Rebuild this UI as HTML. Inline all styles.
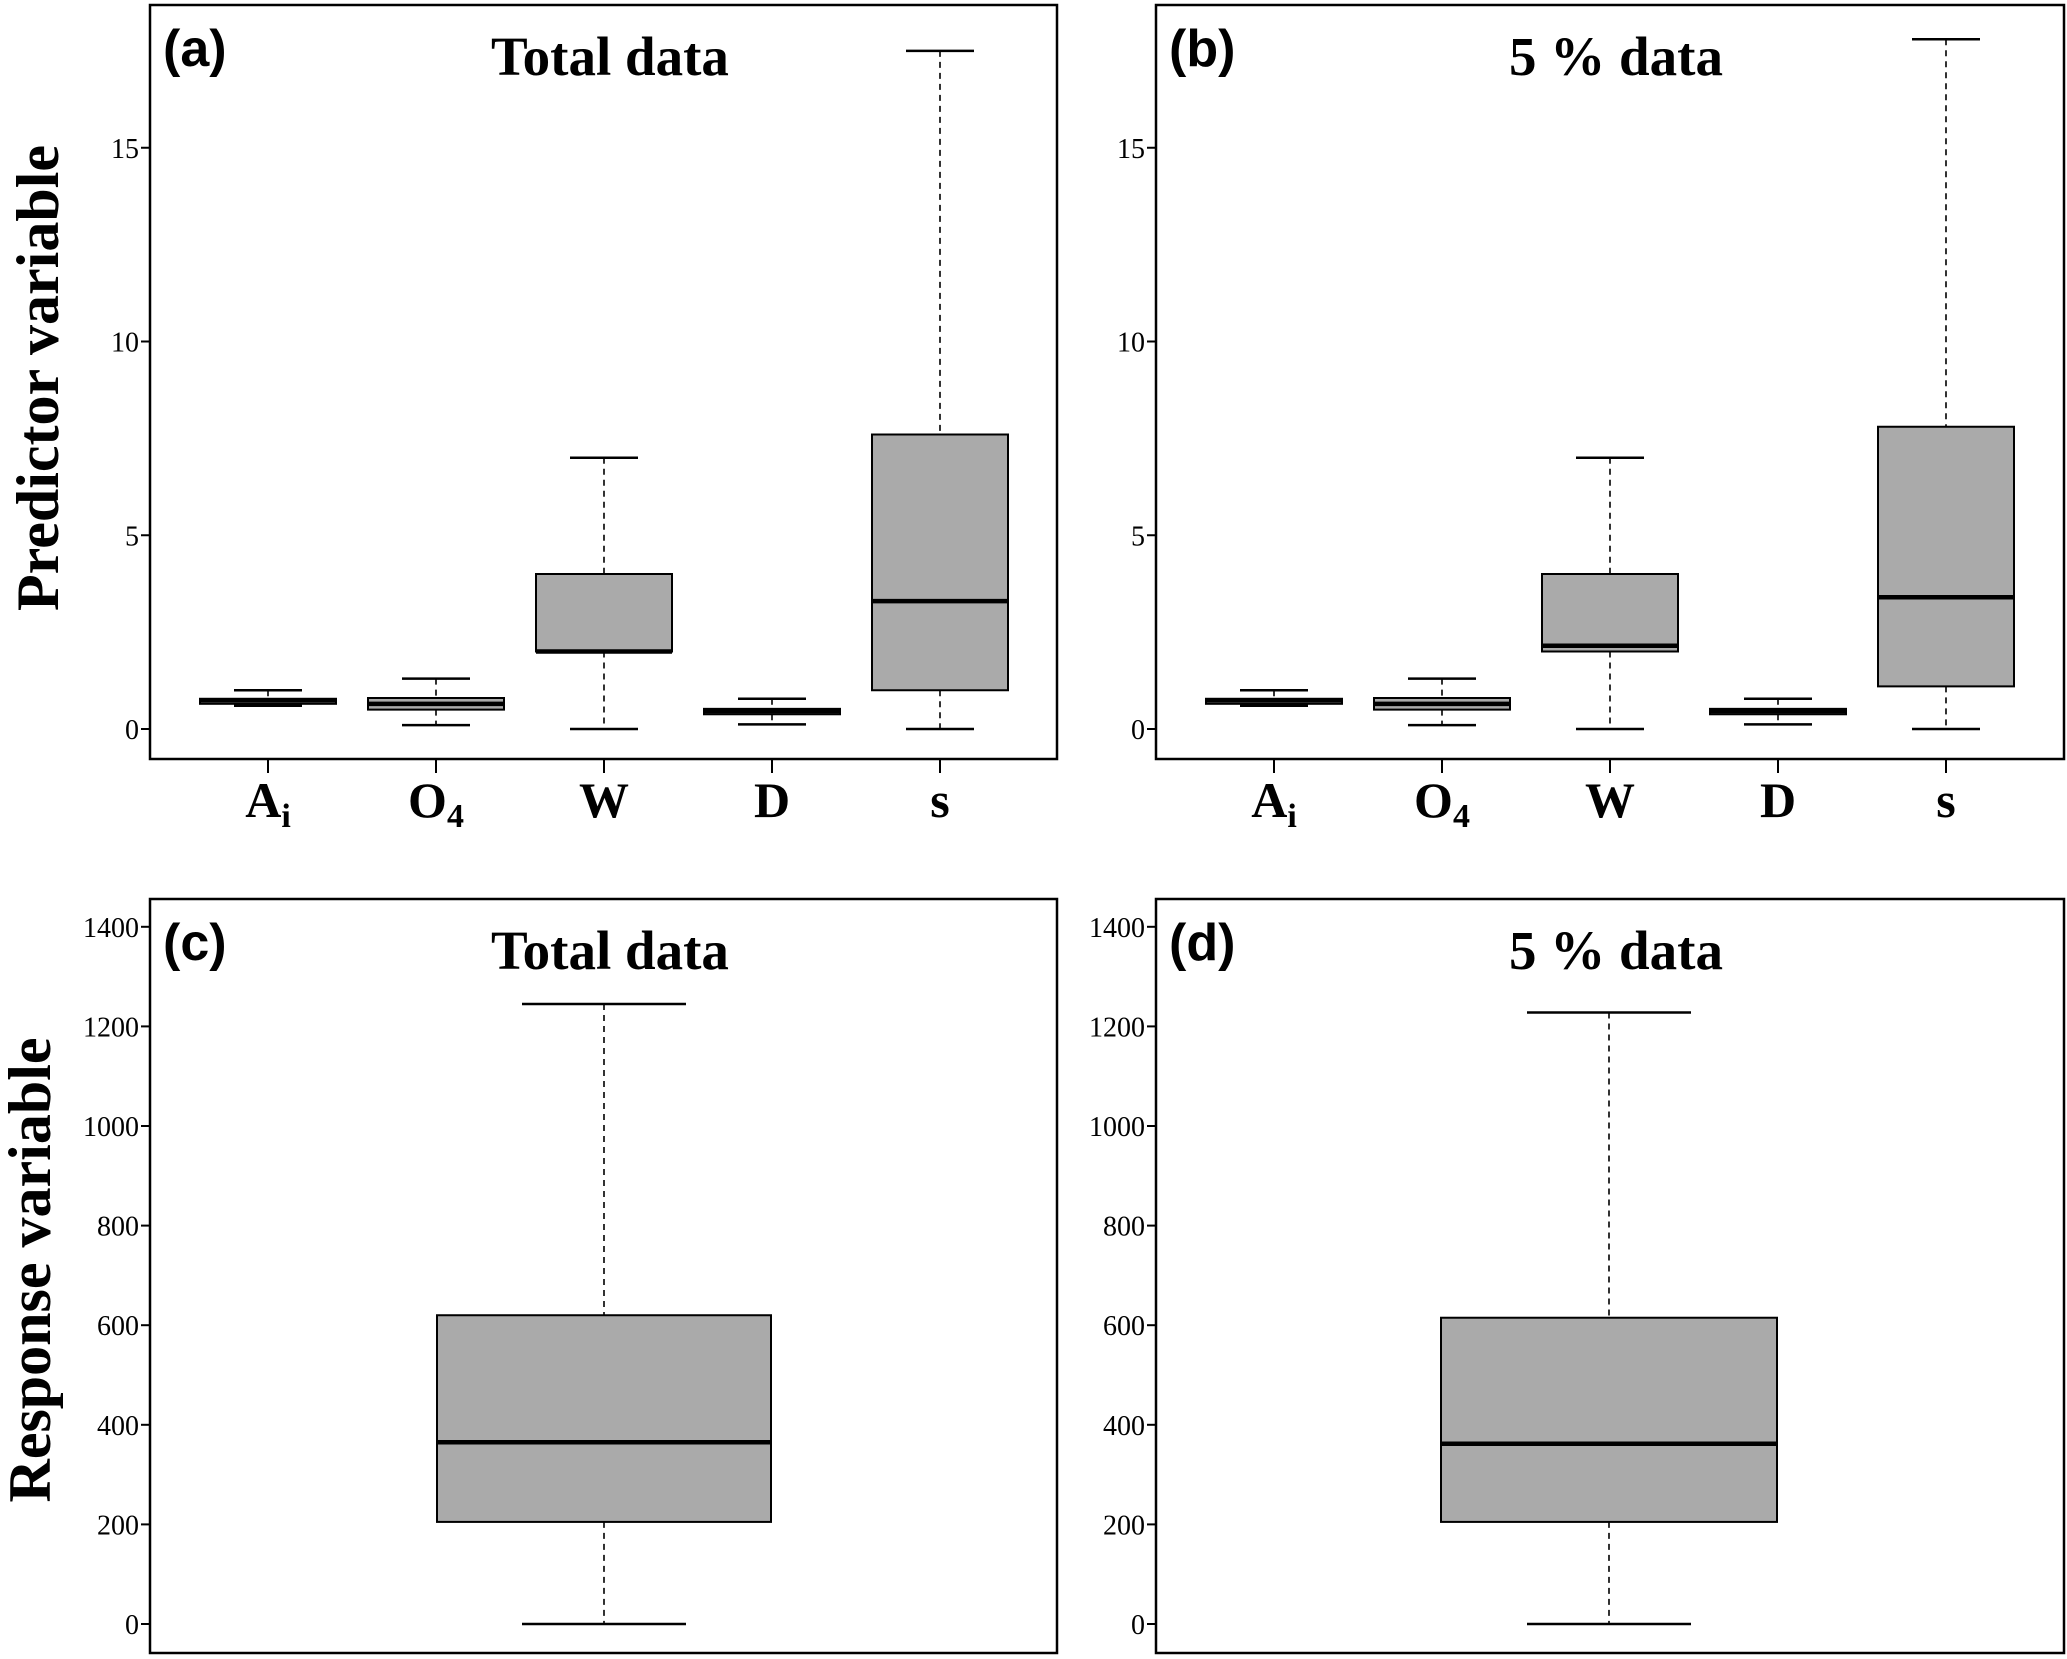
<!DOCTYPE html>
<html><head><meta charset="utf-8"><style>
html,body{margin:0;padding:0;background:#fff;}
svg{display:block;}
text{font-family:"Liberation Serif",serif;fill:#000;}
.lab{font-family:"Liberation Sans",sans-serif;font-weight:bold;font-size:52px;}
.ttl{font-weight:bold;font-size:55px;}
.tick{font-size:28px;}
.xl{font-weight:bold;font-size:50px;}
.yt{font-weight:bold;font-size:60px;}
</style></head><body>
<svg id="chart" width="2067" height="1659" viewBox="0 0 2067 1659" xmlns="http://www.w3.org/2000/svg">
<text class="yt" transform="translate(58,378) rotate(-90)" text-anchor="middle">Predictor variable</text>
<text class="yt" transform="translate(50,1270) rotate(-90)" text-anchor="middle">Response variable</text>
</svg>
<script>
const predCategories = ["A", "O", "W", "D", "s"];
const predSubs = ["i", "4", "", "", ""];
const predTicks = [0, 5, 10, 15];
const respTicks = [0, 200, 400, 600, 800, 1000, 1200, 1400];
// [min, q1, median, q3, max]
const totalAi = [0.6, 0.65, 0.74, 0.78, 1.0];
const totalO4 = [0.1, 0.5, 0.65, 0.8, 1.3];
const totalW = [0, 2.0, 2.0, 4.0, 7.0];
const totalD = [0.12, 0.38, 0.46, 0.52, 0.78];
const totalS = [0, 1.0, 3.3, 7.6, 17.5];
const fiveAi = [0.6, 0.65, 0.74, 0.78, 1.0];
const fiveO4 = [0.1, 0.5, 0.65, 0.8, 1.3];
const fiveW = [0, 2.0, 2.15, 4.0, 7.0];
const fiveD = [0.12, 0.38, 0.46, 0.52, 0.78];
const fiveS = [0, 1.1, 3.4, 7.8, 17.8];
const respTotal = [0, 205, 365, 620, 1245];
const respFive = [0, 205, 362, 615, 1228];

const svg = document.getElementById('chart');
const NS = 'http://www.w3.org/2000/svg';
function mk(tag, attrs, parent) {
  const e = document.createElementNS(NS, tag);
  for (const k in attrs) e.setAttribute(k, attrs[k]);
  (parent || svg).appendChild(e);
  return e;
}
function panel(p) {
  const g = mk('g', {});
  
  
  const frame = mk('rect', {x: p.x0, y: p.y0, width: p.x1 - p.x0, height: p.y1 - p.y0, fill: 'none', stroke: '#000', 'stroke-width': 2.5}, g);
  
  
  const ys = v => p.zeroY - (v - 0) * p.pxPerUnit;
  p.ticks.forEach(t => {
    const y = ys(t);
    const tl = mk('line', {x1: p.x0 - 9, x2: p.x0, y1: y, y2: y, stroke: '#000', 'stroke-width': 2}, g);
    
    
    const tx = mk('text', {x: p.x0 - 11, y: y + 10, 'text-anchor': 'end', class: 'tick'}, g);
    
    
    tx.textContent = t;
  });
  const lab = mk('text', {x: p.x0 + 13, y: p.y0 + 61, class: 'lab'}, g);
  
  
  lab.textContent = p.label;
  const ttl = mk('text', {x: p.x0 + 460, y: p.y0 + 70, 'text-anchor': 'middle', class: 'ttl', 'xml:space': 'preserve'}, g);
  
  
  ttl.textContent = p.title;
  p.series.forEach((s, i) => {
    const cx = p.firstX + i * p.step;
    const [mn, q1, md, q3, mx] = s;
    const bg = mk('g', {}, g);
    
    
    mk('line', {x1: cx, x2: cx, y1: ys(mx), y2: ys(q3), stroke: '#000', 'stroke-width': 1.6, 'stroke-dasharray': '6,5'}, bg);
    mk('line', {x1: cx, x2: cx, y1: ys(q1), y2: ys(mn), stroke: '#000', 'stroke-width': 1.6, 'stroke-dasharray': '6,5'}, bg);
    mk('line', {x1: cx - p.cap, x2: cx + p.cap, y1: ys(mx), y2: ys(mx), stroke: '#000', 'stroke-width': 2.5}, bg);
    mk('line', {x1: cx - p.cap, x2: cx + p.cap, y1: ys(mn), y2: ys(mn), stroke: '#000', 'stroke-width': 2.5}, bg);
    mk('rect', {x: cx - p.half, y: ys(q3), width: 2 * p.half, height: Math.max(ys(q1) - ys(q3), 1), fill: '#aaaaaa', stroke: '#000', 'stroke-width': 2}, bg);
    mk('line', {x1: cx - p.half, x2: cx + p.half, y1: ys(md), y2: ys(md), stroke: '#000', 'stroke-width': 4.5}, bg);
    if (p.cats) {
      const xt = mk('line', {x1: cx, x2: cx, y1: p.y1, y2: p.y1 + 14, stroke: '#000', 'stroke-width': 2}, g);
      
      
      const xl = mk('text', {x: cx, y: p.y1 + 58, 'text-anchor': 'middle', class: 'xl'}, g);
      
      
      xl.textContent = p.cats[i];
      if (p.subs[i]) {
        const ts = mk('tspan', {'font-size': '34px', dy: 10}, xl);
        ts.textContent = p.subs[i];
      }
    }
  });
}
panel({name: 'panel-a', label: '(a)', title: 'Total data', x0: 150, x1: 1057, y0: 5, y1: 759, zeroY: 729, pxPerUnit: 38.75, ticks: predTicks, series: [totalAi, totalO4, totalW, totalD, totalS], cats: predCategories, subs: predSubs, firstX: 268, step: 168, half: 68, cap: 34});
panel({name: 'panel-b', label: '(b)', title: '5 %  data', x0: 1156, x1: 2064, y0: 5, y1: 759, zeroY: 729, pxPerUnit: 38.75, ticks: predTicks, series: [fiveAi, fiveO4, fiveW, fiveD, fiveS], cats: predCategories, subs: predSubs, firstX: 1274, step: 168, half: 68, cap: 34});
panel({name: 'panel-c', label: '(c)', title: 'Total data', x0: 150, x1: 1057, y0: 899, y1: 1653, zeroY: 1624, pxPerUnit: 0.498, ticks: respTicks, series: [respTotal], firstX: 604, step: 0, half: 167, cap: 82});
panel({name: 'panel-d', label: '(d)', title: '5 %  data', x0: 1156, x1: 2064, y0: 899, y1: 1653, zeroY: 1624, pxPerUnit: 0.498, ticks: respTicks, series: [respFive], firstX: 1609, step: 0, half: 168, cap: 82});
</script>
</body></html>
